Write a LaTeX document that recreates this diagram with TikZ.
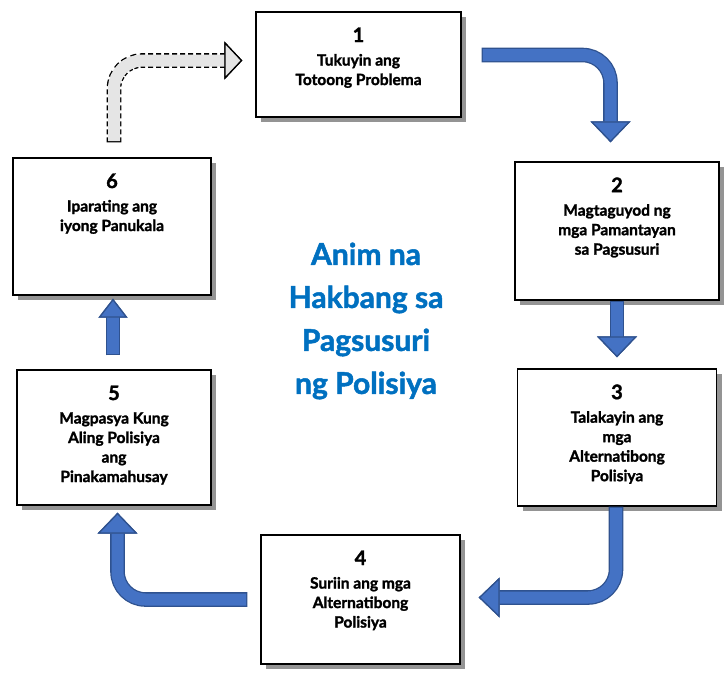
\documentclass[tikz,border=0pt]{standalone}
\usepackage{fontspec}
\setmainfont{Lato}[BoldFeatures={FakeBold=1.6}]
\usetikzlibrary{arrows.meta,shadows,positioning}

\definecolor{arrowblue}{HTML}{4472C4}
\definecolor{arrowedge}{HTML}{2F528F}
\definecolor{titleblue}{HTML}{0070C0}

\newcommand{\stepno}[1]{{\fontsize{20}{23}\selectfont #1}\\[4pt]}

\begin{document}
\begin{tikzpicture}[
  x=1pt, y=-1pt,
  stepbox/.style={draw, fill=white, line width=1.3pt,
    drop shadow={shadow xshift=5pt, shadow yshift=-5pt, fill=black!42, opacity=1}},
  steptext/.style={anchor=north, align=center, inner sep=0pt,
    font=\bfseries\fontsize{15.5}{19.5}\selectfont},
  blockarrow/.style={draw=arrowblue, line width=12pt, rounded corners=28pt, shorten <=1.3pt,
    preaction={draw=arrowedge, line width=14.6pt, shorten <=0pt},
    -{Triangle[length=21pt, width=40pt, line width=1.3pt, fill=arrowblue, color=arrowedge]}},
  backarrow/.style={draw=black!10, line width=12pt, rounded corners=28pt, shorten <=1.3pt,
    preaction={draw=black, line width=14.6pt, shorten <=0pt, dash pattern=on 5pt off 3pt},
    -{Triangle[length=18pt, width=38pt, line width=1.3pt, fill=black!10, color=black]}}
]
\useasboundingbox (0,0) rectangle (725,673);

% the six steps
\node[stepbox, minimum width=205pt, minimum height=105pt] (s1) at (358.5,64.5) {};
\node[stepbox, minimum width=204pt, minimum height=138pt] (s2) at (617,231) {};
\node[stepbox, minimum width=199pt, minimum height=137pt] (s3) at (617,437.5) {};
\node[stepbox, minimum width=199pt, minimum height=129pt] (s4) at (360.5,599.5) {};
\node[stepbox, minimum width=194pt, minimum height=135pt] (s5) at (114,437.5) {};
\node[stepbox, minimum width=198pt, minimum height=137pt] (s6) at (112,226.5) {};

\node[steptext, below=16pt of s1.north] (t1) {\stepno{1}Tukuyin ang\\Totoong Problema};
\node[steptext, below=16pt of s2.north] (t2) {\stepno{2}Magtaguyod ng\\mga Pamantayan\\sa Pagsusuri};
\node[steptext, below=16pt of s3.north] (t3) {\stepno{3}Talakayin ang\\mga\\Alternatibong\\Polisiya};
\node[steptext, below=16pt of s4.north] (t4) {\stepno{4}Suriin ang mga\\Alternatibong\\Polisiya};
\node[steptext, below=16pt of s5.north] (t5) {\stepno{5}Magpasya Kung\\Aling Polisiya\\ang\\Pinakamahusay};
\node[steptext, below=16pt of s6.north] (t6) {\stepno{6}Iparating ang\\iyong Panukala};

\node[align=center, text=titleblue, font=\bfseries\fontsize{30}{43}\selectfont] (title)
  at (366,321) {Anim na\\Hakbang sa\\Pagsusuri\\ng Polisiya};

% arrows between the steps
\draw[blockarrow] ([shift={(20,-9.5)}]s1.east) -| ([shift={(-6.5,-19)}]s2.north);
\draw[blockarrow] (s2.south) -- ([shift={(0,-11)}]s3.north);
\draw[blockarrow] ([shift={(-1,0)}]s3.south) |- ([shift={(18,-2)}]s4.east);
\draw[blockarrow] ([shift={(-13,0)}]s4.west) -| ([shift={(3.5,7)}]s5.south);
\draw[blockarrow, -{Triangle[length=19pt, width=29pt, line width=1.3pt, fill=arrowblue, color=arrowedge]}]
  ([shift={(-1,-14)}]s5.north) -- ([shift={(1,3)}]s6.south);
\draw[backarrow] ([shift={(2,-15)}]s6.north) |- ([shift={(-13,-4)}]s1.west);
\end{tikzpicture}
\end{document}
